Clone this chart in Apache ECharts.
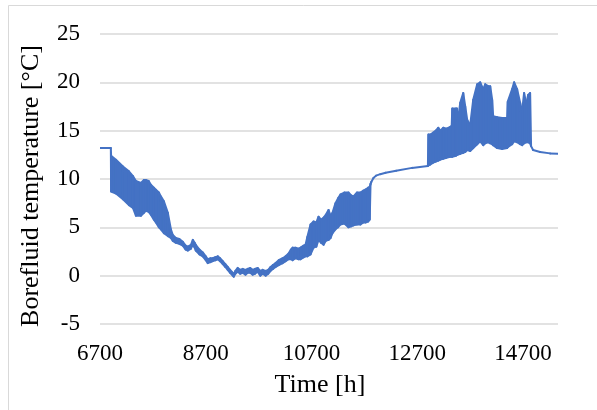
<!DOCTYPE html>
<html>
<head>
<meta charset="utf-8">
<script src="https://cdn.jsdelivr.net/npm/echarts@6/dist/echarts.min.js"></script>
<style>
html,body{margin:0;padding:0;background:#fff;}
#chart{width:597px;height:410px;}
</style>
</head>
<body>
<div id="chart"></div>
<script>
// Time [h]
var hours = [6700,6905,6910,7002,7134,7247,7323,7379,7474,7530,7568,7620,7662,7719,7757,7813,7851,7908,7983,8040,8077,
  8134,8200,8266,8320,8360,8420,8455,8490,8511,8580,8643,8700,8738,8790,8832,8880,8927,8970,9021,9070,9115,9160,9210,9228,
  9260,9304,9350,9398,9450,9493,9540,9587,9630,9681,9730,9776,9832,9880,9926,9970,10021,10080,10153,10210,10266,10310,10342,
  10398,10455,10493,10549,10587,10620,10681,10738,10790,10832,10880,10927,10970,11021,11060,11096,11153,11200,11247,11320,
  11398,11450,11493,11560,11625,11680,11719,11770,11800,11815,11830,11870,11920,12000,12100,12300,12600,12900,
  12910,12946,13002,13050,13097,13134,13191,13250,13323,13350,13361,13430,13450,13460,13512,13568,13606,13644,13700,13757,
  13832,13889,13946,13983,14040,14078,14115,14134,14210,14304,14398,14410,14493,14531,14587,14644,14681,14719,14760,14795,
  14832,14851,14889,15021,15210,15360];
// Lower envelope of borefluid temperature [°C]
var lower = [13.2,13.2,8.7,8.5,7.9,7.3,7.0,6.2,6.2,6.5,6.7,6.6,6.3,5.8,5.5,5.0,4.8,4.4,4.1,3.9,3.6,
  3.4,3.3,3.1,2.7,2.6,2.8,3.2,2.9,2.6,2.2,2.0,1.6,1.3,1.4,1.5,1.6,1.7,1.5,1.2,0.9,0.6,0.3,0.0,-0.1,
  0.2,0.4,0.2,0.3,0.1,0.3,0.3,0.1,0.2,0.4,0.0,0.2,0.0,0.2,0.5,0.7,0.9,1.1,1.3,1.5,1.7,1.7,1.6,
  1.8,1.7,1.7,1.9,2.0,2.0,2.2,2.9,3.0,3.7,3.4,3.2,3.6,3.7,3.9,4.4,4.8,5.0,5.3,5.4,
  5.0,5.1,5.2,5.3,5.3,5.5,5.5,5.6,5.8,9.4,9.7,10.1,10.35,10.5,10.65,10.85,11.15,11.35,
  11.4,11.5,11.7,11.8,11.9,12.0,12.1,12.2,12.3,12.3,12.3,12.4,12.5,12.5,12.6,12.7,12.8,13.0,12.9,13.2,
  13.6,13.9,13.5,13.7,13.8,13.7,13.6,13.5,13.2,13.1,13.2,13.3,13.6,13.9,13.8,13.6,13.5,13.7,13.8,13.8,
  13.7,13.4,13.0,12.8,12.65,12.6];
// Upper envelope of borefluid temperature [°C]
var upper = [13.2,13.2,12.4,12.0,11.3,10.8,10.3,9.8,9.6,9.9,9.9,9.8,9.4,9.1,8.9,8.6,8.2,7.7,6.5,4.8,4.2,
  3.9,3.8,3.5,3.1,3.0,3.2,3.7,3.4,3.2,2.7,2.4,2.0,1.7,1.8,1.8,1.9,2.0,1.8,1.5,1.2,0.9,0.6,0.3,0.1,
  0.5,0.8,0.6,0.7,0.6,0.7,0.8,0.6,0.7,0.8,0.5,0.6,0.5,0.6,0.9,1.1,1.3,1.6,1.8,2.0,2.3,2.7,2.9,
  2.9,2.8,2.9,3.1,3.2,4.0,5.3,5.6,5.5,6.1,5.8,6.0,6.3,6.8,6.2,6.5,7.5,8.0,8.4,8.6,
  8.6,8.3,8.2,8.6,8.6,8.8,8.9,9.1,9.2,9.5,9.7,10.1,10.35,10.5,10.65,10.85,11.15,11.35,
  14.6,14.6,14.8,15.0,15.3,15.0,15.3,15.2,15.4,15.5,17.3,17.3,17.3,15.8,17.9,18.9,17.5,16.1,15.6,18.2,
  19.8,20.0,19.3,19.8,19.6,19.6,18.2,16.5,16.4,16.3,16.3,18.0,19.3,20.0,19.3,17.9,17.0,18.9,17.8,18.7,
  18.9,13.4,13.0,12.8,12.65,12.6];
var yTicks = [-5, 0, 5, 10, 15, 20, 25];
var xTicks = [6700, 8700, 10700, 12700, 14700];

// one segment per consecutive pair of samples: [t0, lo0, up0, t1, lo1, up1]
var segments = [];
for (var i = 0; i < hours.length - 1; i++) {
  segments.push([hours[i], lower[i], upper[i], hours[i + 1], lower[i + 1], upper[i + 1]]);
}

var blue = '#4472C4';
var font = '"Liberation Serif", "Times New Roman", serif';
var chart = echarts.init(document.getElementById('chart'), null, {renderer: 'canvas'});

function renderSeg(params, api) {
  var a = api.coord([api.value(0), api.value(2)]);
  var b = api.coord([api.value(3), api.value(5)]);
  var c = api.coord([api.value(3), api.value(4)]);
  var d = api.coord([api.value(0), api.value(1)]);
  return {
    type: 'polygon',
    shape: {points: [a, b, c, d]},
    style: {fill: blue, stroke: blue, lineWidth: 2, lineJoin: 'round'}
  };
}

chart.setOption({
  animation: false,
  backgroundColor: '#fff',
  graphic: [{
    type: 'rect', silent: true, z: -10,
    shape: {x: 8.5, y: 5.5, width: 700, height: 500},
    style: {fill: 'none', stroke: '#d9d9d9', lineWidth: 1}
  }],
  grid: {left: 100, right: 39, top: 34, bottom: 86, containLabel: false},
  xAxis: {
    type: 'value',
    min: xTicks[0], max: 15360, interval: xTicks[1] - xTicks[0],
    name: 'Time [h]', nameLocation: 'middle', nameGap: 48,
    nameTextStyle: {fontFamily: font, fontSize: 26, color: '#000', padding: [0, 18, 0, 0]},
    axisLine: {show: false}, axisTick: {show: false},
    splitLine: {show: false},
    axisLabel: {fontFamily: font, fontSize: 23, color: '#000', margin: 18, showMaxLabel: false,
      formatter: function(v){ return xTicks.indexOf(v) >= 0 ? String(v) : ''; }}
  },
  yAxis: {
    type: 'value',
    min: yTicks[0], max: yTicks[yTicks.length - 1], interval: 5,
    name: 'Borefluid temperature [°C]', nameLocation: 'middle', nameGap: 56, nameRotate: 90,
    nameTextStyle: {fontFamily: font, fontSize: 26, color: '#000', padding: [0, 0, 0, -14]},
    axisLine: {show: false}, axisTick: {show: false},
    splitLine: {show: true, lineStyle: {color: '#d9d9d9', width: 1.5}},
    axisLabel: {fontFamily: font, fontSize: 23, color: '#000', margin: 20}
  },
  series: [{
    type: 'custom',
    name: 'Borefluid temperature',
    coordinateSystem: 'cartesian2d',
    renderItem: renderSeg,
    encode: {x: [0, 3], y: [1, 2, 4, 5]},
    data: segments,
    clip: true,
    z: 3
  }]
});
</script>
</body>
</html>
